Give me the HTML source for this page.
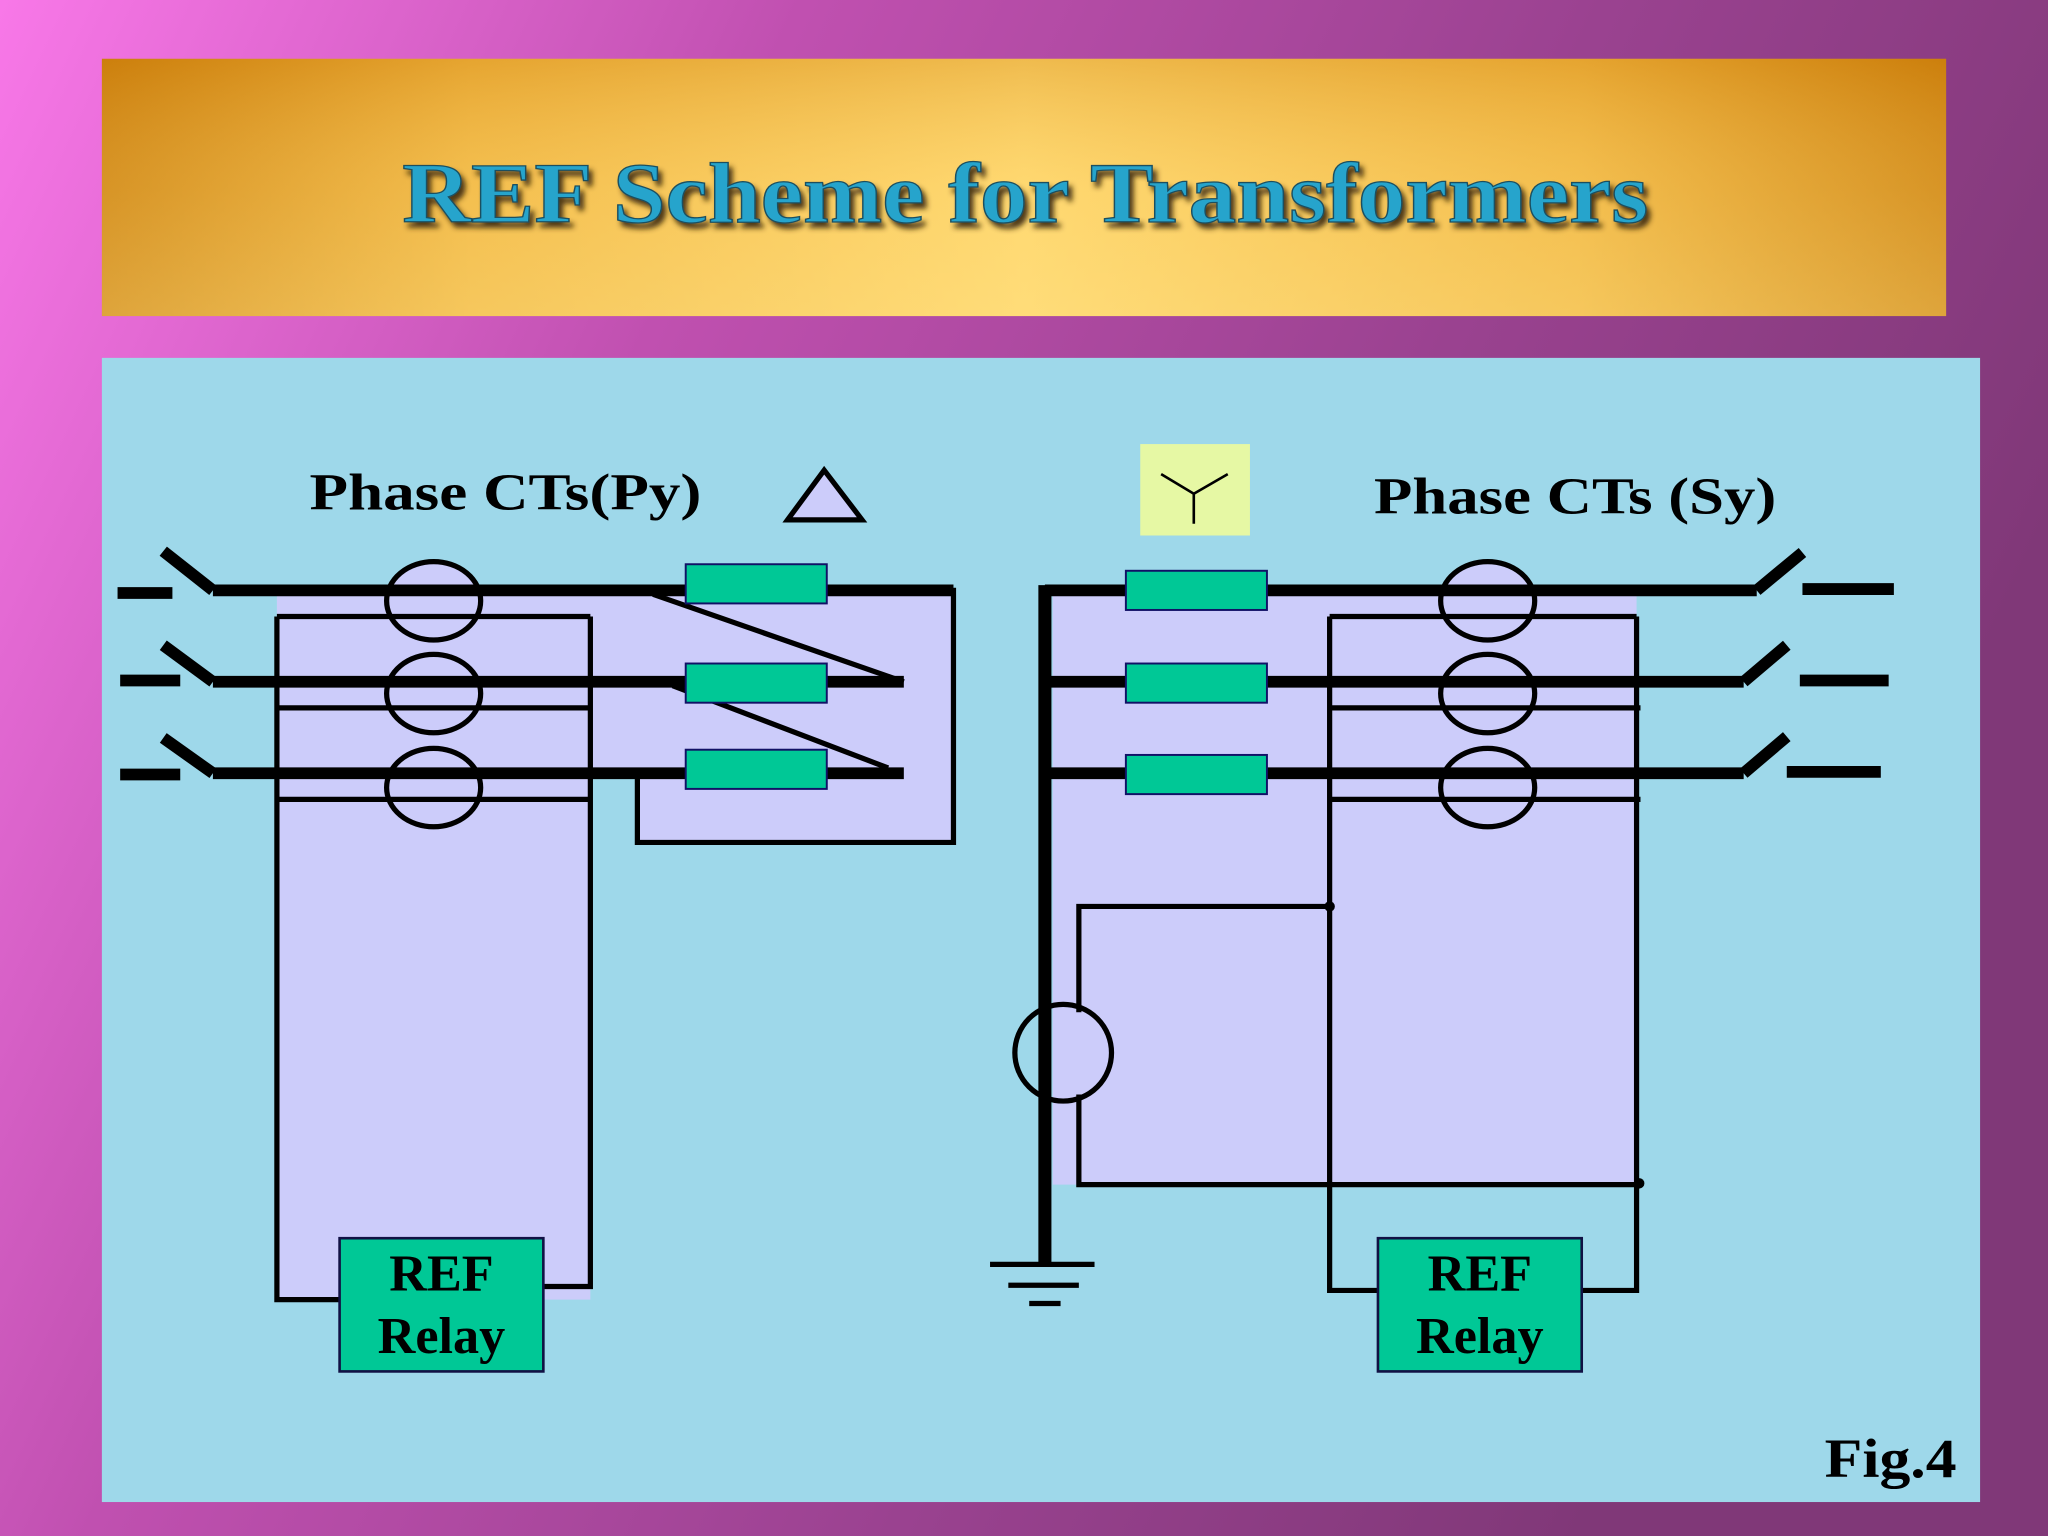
<!DOCTYPE html>
<html><head><meta charset="utf-8"><style>
html,body{margin:0;padding:0;width:2048px;height:1536px;overflow:hidden}
svg{display:block}
</style></head><body>
<svg width="2048" height="1536" viewBox="0 0 1568 1176" xmlns="http://www.w3.org/2000/svg">
<defs>
<linearGradient id="bg" x1="0" y1="0" x2="1" y2="0.35">
<stop offset="0" stop-color="#f878e8"/><stop offset="0.35" stop-color="#c050b0"/><stop offset="0.7" stop-color="#9a4290"/><stop offset="1" stop-color="#803878"/>
</linearGradient>
<linearGradient id="banh" x1="0" y1="0" x2="1" y2="0">
<stop offset="0" stop-color="#d08410"/><stop offset="0.2" stop-color="#f2b640"/><stop offset="0.5" stop-color="#ffd468"/><stop offset="0.8" stop-color="#f2b640"/><stop offset="1" stop-color="#d08410"/>
</linearGradient>
<linearGradient id="banv" x1="0" y1="0" x2="0" y2="1">
<stop offset="0" stop-color="#c07000" stop-opacity="0.25"/><stop offset="0.5" stop-color="#fff0a0" stop-opacity="0.15"/><stop offset="1" stop-color="#fff0a0" stop-opacity="0.3"/>
</linearGradient>
<filter id="sh" x="-5%" y="-5%" width="110%" height="130%"><feDropShadow dx="3" dy="4" stdDeviation="2" flood-color="#3a2a10" flood-opacity="0.9"/></filter>
</defs>
<rect width="1568" height="1176" fill="url(#bg)"/>
<rect x="78" y="45" width="1412" height="197" fill="url(#banh)"/>
<rect x="78" y="45" width="1412" height="197" fill="url(#banv)"/>
<text x="308" y="170" textLength="954" lengthAdjust="spacingAndGlyphs" font-family="Liberation Serif, serif" font-weight="bold" font-size="66" fill="#28a4cc" stroke="#1a5060" stroke-width="1" filter="url(#sh)">REF Scheme for Transformers</text>
<rect x="78" y="274" width="1438" height="876" fill="#9ed8ea"/>

<g fill="#ccccfa">
<path d="M212 450 H730 V645 H488 V592 H452 V995 H212 Z"/>
<path d="M806 452 H1253 V907 H806 Z"/>
<ellipse cx="332" cy="460" rx="36" ry="30"/>
<ellipse cx="1139" cy="460" rx="36" ry="30"/>
</g>

<g stroke="#000" fill="none" stroke-linecap="butt">
<g stroke-width="9">
<line x1="163" y1="452" x2="730" y2="452"/>
<line x1="163" y1="522" x2="692" y2="522"/>
<line x1="163" y1="592" x2="692" y2="592"/>
<line x1="125" y1="422" x2="163" y2="452"/>
<line x1="125" y1="494" x2="163" y2="522"/>
<line x1="125" y1="565" x2="163" y2="592"/>
<line x1="90" y1="454" x2="132" y2="454"/>
<line x1="92" y1="521" x2="138" y2="521"/>
<line x1="92" y1="593" x2="138" y2="593"/>
</g>
<g stroke-width="4">
<path d="M730 450 V645 H488 V592"/>
<line x1="500" y1="455" x2="692" y2="522"/>
<line x1="515" y1="525" x2="680" y2="588"/>
<path d="M212 472 H452"/>
<path d="M212 542 H452"/><path d="M212 612 H452"/>
<path d="M212 472 V995 H260"/>
<path d="M452 472 V985 H416"/>
<ellipse cx="332" cy="460" rx="36" ry="30"/>
<ellipse cx="332" cy="531" rx="36" ry="30"/>
<ellipse cx="332" cy="603" rx="36" ry="30"/>
</g>
<g stroke-width="9">
<line x1="800" y1="452" x2="1345" y2="452"/>
<line x1="800" y1="522" x2="1335" y2="522"/>
<line x1="800" y1="592" x2="1335" y2="592"/>
<line x1="1345" y1="452" x2="1380" y2="423"/>
<line x1="1335" y1="522" x2="1368" y2="494"/>
<line x1="1335" y1="592" x2="1368" y2="564"/>
<line x1="1380" y1="451" x2="1450" y2="451"/>
<line x1="1378" y1="521" x2="1446" y2="521"/>
<line x1="1368" y1="591" x2="1440" y2="591"/>
</g>
<line x1="800" y1="448" x2="800" y2="968" stroke-width="10"/>
<g stroke-width="4">
<line x1="758" y1="968" x2="838" y2="968"/>
<line x1="772" y1="984" x2="826" y2="984"/>
<line x1="788" y1="998" x2="812" y2="998"/>
<path d="M1018 472 H1253"/>
<path d="M1018 542 H1256"/><path d="M1018 612 H1256"/>
<path d="M1018 472 V988 H1055"/>
<path d="M1253 472 V988 H1211"/>
<ellipse cx="1139" cy="460" rx="36" ry="30"/>
<ellipse cx="1139" cy="531" rx="36" ry="30"/>
<ellipse cx="1139" cy="603" rx="36" ry="30"/>
<path d="M826 775 V694 H1018"/>
<path d="M826 838 V907 H1256"/>
<circle cx="814" cy="806" r="37"/>
</g>
</g>
<circle cx="1018" cy="694" r="4"/><circle cx="1255" cy="906" r="4"/>

<g fill="#00c896" stroke="#116" stroke-width="1.5">
<rect x="525" y="432" width="108" height="30"/>
<rect x="525" y="508" width="108" height="30"/>
<rect x="525" y="574" width="108" height="30"/>
<rect x="862" y="437" width="108" height="30"/>
<rect x="862" y="508" width="108" height="30"/>
<rect x="862" y="578" width="108" height="30"/>
<rect x="260" y="948" width="156" height="102" stroke="#114" stroke-width="2"/>
<rect x="1055" y="948" width="156" height="102" stroke="#114" stroke-width="2"/>
</g>
<g font-family="Liberation Serif, serif" font-weight="bold" font-size="40" text-anchor="middle" fill="#000">
<text x="338" y="988">REF</text><text x="338" y="1036">Relay</text>
<text x="1133" y="988">REF</text><text x="1133" y="1036">Relay</text>
</g>
<text x="237" y="390" font-family="Liberation Serif, serif" font-weight="bold" font-size="40" textLength="300" lengthAdjust="spacingAndGlyphs">Phase CTs(Py)</text>
<polygon points="603,398 631,360 660,398" fill="#ccccfa" stroke="#000" stroke-width="4"/>
<rect x="873" y="340" width="84" height="70" fill="#e6f8a4"/>
<path d="M889 363 L914 378 L940 363 M914 378 V401" stroke="#000" stroke-width="2" fill="none"/>
<text x="1052" y="393" font-family="Liberation Serif, serif" font-weight="bold" font-size="40" textLength="308" lengthAdjust="spacingAndGlyphs">Phase CTs (Sy)</text>
<text x="1397" y="1131" font-family="Liberation Serif, serif" font-weight="bold" font-size="42" textLength="101" lengthAdjust="spacingAndGlyphs">Fig.4</text>
</svg>
</body></html>
